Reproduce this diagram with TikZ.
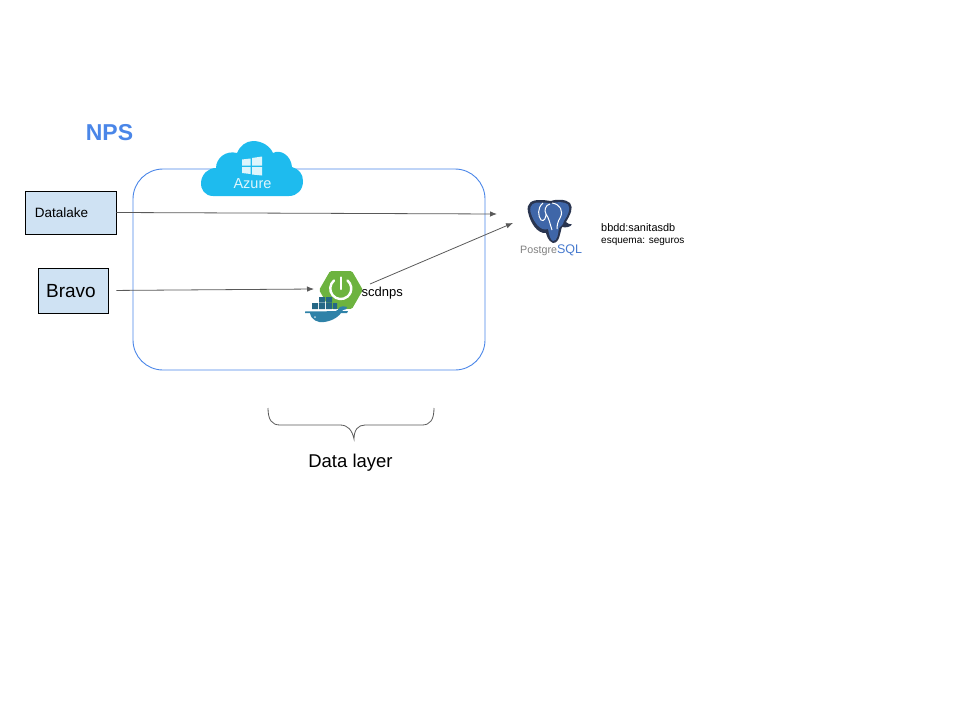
\documentclass[tikz,border=0pt]{standalone}
\usepackage{fontspec}
\setmainfont{Liberation Sans}
\usetikzlibrary{shapes.geometric,arrows.meta}
\definecolor{lineblue}{HTML}{4A86E8}
\definecolor{boxblue}{HTML}{CFE2F3}
\definecolor{azureblue}{HTML}{1EBBEE}
\definecolor{springgreen}{HTML}{6DB33F}
\definecolor{dockerblue}{HTML}{2F82A8}
\definecolor{pgblue}{HTML}{3F66A8}
\definecolor{pgdark}{HTML}{2A3550}
\definecolor{arrowgray}{HTML}{595959}
\tikzstyle{source} = [rectangle, draw=black, fill=boxblue, text centered, line width=0.7pt]
\tikzstyle{connector} = [line width=0.8pt, draw=arrowgray, -{Latex[length=7pt,width=5.5pt]}]
\tikzstyle{caption} = [inner sep=0pt, text=black]

\begin{document}
\begin{tikzpicture}[x=1pt,y=-1pt]
    \useasboundingbox (0,0) rectangle (960,720);
    \node (title) [caption,text=lineblue] at (109.5,133) {\fontsize{23}{25}\selectfont\bfseries NPS};
    \draw [lineblue,line width=0.9pt,rounded corners=30pt] (133,169) rectangle (485,370);
    % azure cloud
    \fill [azureblue] (213,196) .. controls (205,196) and (200,189) .. (201,182) .. controls (202,174) and (208,168) .. (216,168)
        .. controls (216,158) and (226,150) .. (237,153) .. controls (240,146) and (246,141) .. (253,141)
        .. controls (262,141) and (270,146) .. (273,153) .. controls (280,149) and (291,155) .. (292,167)
        .. controls (299,169) and (303,174) .. (303,181) .. controls (303,190) and (297,196) .. (289,196) -- cycle;
    \fill [white!85!azureblue] (242,159.5) -- (250.5,158.5) -- (250.5,165.5) -- (242,165.5) -- cycle
        (252,158) -- (262,156.5) -- (262,165.5) -- (252,165.5) -- cycle
        (242,167) -- (250.5,167) -- (250.5,174) -- (242,173) -- cycle
        (252,167) -- (262,167) -- (262,175.5) -- (252,174.5) -- cycle;
    \node (azure) [caption,text=white!85!azureblue] at (252.5,184) {\fontsize{14.5}{16}\selectfont Azure};
    % boxes
    \node (datalake) [source,minimum width=91pt,minimum height=43pt] at (70.5,212.5) {};
    \node (datalaketext) [caption] at (61.5,213) {\fontsize{13.5}{15}\selectfont Datalake};
    \node (bravo) [source,minimum width=70pt,minimum height=45pt] at (73,290.5) {};
    \node (bravotext) [caption] at (71,291) {\fontsize{19}{21}\selectfont Bravo};
    % spring boot
    \node (spring) [regular polygon,regular polygon sides=6,fill=springgreen,draw=springgreen,line width=5pt,line join=round,minimum size=38pt,inner sep=0pt] at (341,290) {};
    \draw [white,line width=2.4pt,line cap=round] (340.75,277.5) -- (340.75,289);
    \draw [white,line width=2.4pt,line cap=round] (334,280.5) arc[start angle=130,end angle=410,radius=10.5pt];
    % docker whale
    \fill [dockerblue] (305,311.5) -- (348,311) -- (347,313) -- (305,313) -- cycle;
    \fill [dockerblue!80!black] (312,303) rectangle (318,309) (319,303) rectangle (325,309) (326,303) rectangle (332,309)
        (319,297) rectangle (325,302.5) (326,297) rectangle (332,302.5) (333,303) rectangle (337,309);
    \fill [dockerblue] (310,313) .. controls (311,320) and (318,323) .. (324,322) .. controls (333,321) and (340,316) .. (343,310)
        .. controls (346,310) and (347,309) .. (347,307) .. controls (344,306) and (342,306) .. (340,307) .. controls (339,309) and (337,311) .. (334,312) -- cycle;
    \fill [white!70!dockerblue] (315,317) circle[radius=1pt];
    \node (scdnps) [caption,anchor=west] at (361.5,293) {\fontsize{13}{15}\selectfont scdnps};
    % postgres elephant
    \fill [pgdark] (553,243) .. controls (548,241) and (547,236) .. (546,233) .. controls (537,234) and (530,222) .. (528,212)
        .. controls (526,203) and (532,199.5) .. (541,200) .. controls (546,200) and (549,201) .. (551,201)
        .. controls (556,199) and (566,199) .. (570,203) .. controls (574,208) and (570,215) .. (566,222)
        .. controls (567,224) and (570,224) .. (572,224.5) .. controls (570,227) and (566,228) .. (562,227)
        .. controls (560,232) and (560,243) .. (553,243) -- cycle;
    \fill [pgblue] (553,241) .. controls (550,240) and (549,234) .. (548,229) .. controls (540,232) and (533,221) .. (530.5,212)
        .. controls (529,204) and (534,202) .. (541,202.5) .. controls (546,202.5) and (549,203) .. (551,203.5)
        .. controls (556,201.5) and (565,201.5) .. (568,204.5) .. controls (571,209) and (568,215) .. (564,221)
        .. controls (563,226) and (560,226) .. (559,228) .. controls (558,233) and (558,241) .. (553,241) -- cycle;
    \draw [white,line width=1pt] (543,203) .. controls (537,208) and (538,216) .. (541,220) .. controls (544,222) and (546,218) .. (546,214)
        (550,204) .. controls (545,205) and (544,211) .. (546,214) .. controls (549,218) and (550,224) .. (552,230)
        (552,203) .. controls (560,204) and (564,211) .. (560,218) .. controls (558,221) and (557,225) .. (557,229);
    \node (sql) [caption,anchor=west] at (520,250) {\fontsize{10.7}{13}\selectfont\color{black!50}Postgre\fontsize{12.5}{13}\selectfont\color{lineblue!60!pgblue}SQL};
    \node (schema) [caption,anchor=north west,align=left] at (601,223.5) {\fontsize{10.9}{12.6}\selectfont bbdd:sanitasdb\\esquema: seguros};
    \coordinate (dbtop) at (497,214);
    \coordinate (dbside) at (513,223);
    \coordinate (springin) at (314,289);
    \coordinate (springout) at (370,284);
    % arrows
    \draw [connector] (datalake.east) -- (dbtop);
    \draw [connector,shorten <=8pt] (bravo.east) -- (springin);
    \draw [connector] (springout) -- (dbside);
    % brace
    \draw [arrowgray,line width=0.8pt] (268,408) .. controls (268,420) and (272,425) .. (280,425) -- (340,425) .. controls (348,425) and (352,430) .. (354,439)
        .. controls (354,430) and (358,425) .. (365,425) -- (422,425) .. controls (430,425) and (434,420) .. (434,408);
    \node (layer) [caption] at (350.5,463) {\fontsize{18.5}{20}\selectfont Data layer};
\end{tikzpicture}
\end{document}
